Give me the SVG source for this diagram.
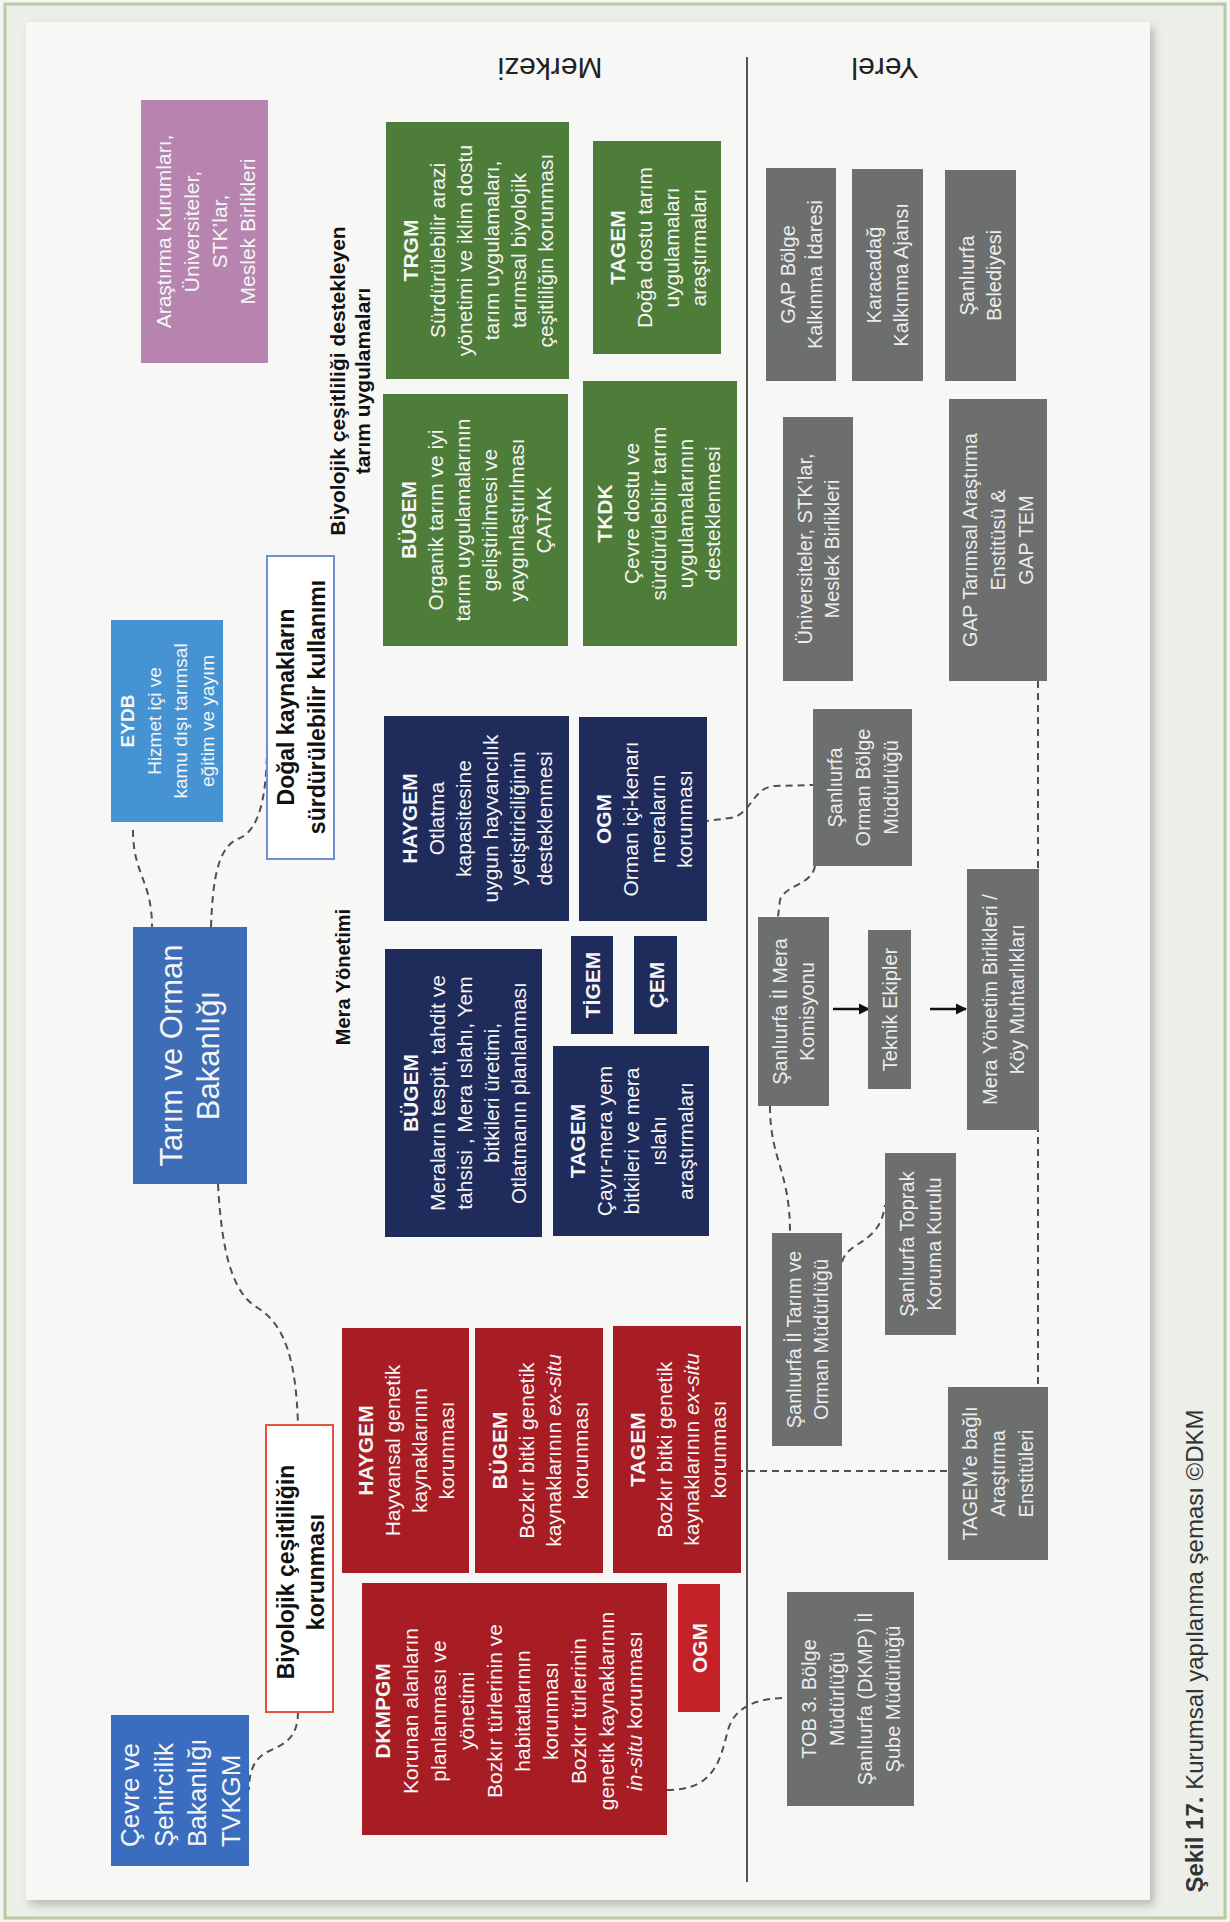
<svg xmlns="http://www.w3.org/2000/svg" width="1230" height="1922" viewBox="0 0 1230 1922">
<defs>
<style>
.t{font-family:"Liberation Sans",Arial,sans-serif;text-anchor:middle;dominant-baseline:central}
.w{fill:#f5f5f5;font-size:21px}
.g{fill:#ececec;font-size:20px}
.k{fill:#111;font-weight:bold}
.bd{font-weight:bold}
.it{font-style:italic}
.green{fill:#4e7d39}
.navy{fill:#1f2b5b}
.red{fill:#a71d23}
.gray{fill:#6d6f6f}
.dash{fill:none;stroke:#505050;stroke-width:2;stroke-dasharray:7 5}
.arr{fill:none;stroke:#111;stroke-width:2.5}
</style>
<filter id="sh" x="-5%" y="-5%" width="110%" height="110%">
<feDropShadow dx="4" dy="5" stdDeviation="4" flood-color="#000" flood-opacity="0.22"/>
</filter>
<marker id="ah" viewBox="0 0 10 10" refX="9" refY="5" markerWidth="4.5" markerHeight="4.5" orient="auto">
<path d="M0,0 L10,5 L0,10 z" fill="#111"/>
</marker>
</defs>

<rect x="0" y="0" width="1230" height="1922" fill="#f4f5f1"/>
<rect x="5" y="4" width="1220" height="1914" fill="#eceee8" stroke="#bac8a6" stroke-width="3"/>
<rect x="26" y="22" width="1124" height="1878" fill="#f7f7f5" filter="url(#sh)"/>

<g id="labels">
<text class="t" font-size="30" fill="#222" transform="translate(550,68) rotate(180)">Merkezi</text>
<text class="t" font-size="30" fill="#222" transform="translate(885,68) rotate(180)">Yerel</text>
<line x1="747" y1="57" x2="747" y2="1882" stroke="#555" stroke-width="2"/>
<text class="t k" font-size="21" transform="rotate(-90)"><tspan x="-381" y="337">Biyolojik çeşitliliği destekleyen</tspan><tspan x="-381" y="362">tarım uygulamaları</tspan></text>
<text class="t k" font-size="20" transform="rotate(-90)"><tspan x="-977" y="343">Mera Yönetimi</tspan></text>
<text class="t" font-size="24" fill="#333" transform="rotate(-90)"><tspan x="-1651" y="1194"><tspan font-weight="bold">Şekil 17.</tspan> Kurumsal yapılanma şeması ©DKM</tspan></text>
</g>

<g id="connectors">
<path class="dash" d="M133,830 C133,875 152,880 152,927"/>
<path class="dash" d="M211,927 C213,865 222,845 240,838 C258,830 267,800 267,745"/>
<path class="dash" d="M218,1184 C222,1260 235,1295 258,1308 C285,1325 296,1360 298,1425"/>
<path class="dash" d="M298,1712 C298,1740 282,1745 267,1752 C252,1760 249,1775 249,1790"/>
<path class="dash" d="M690,823 L730,818 C752,815 752,787 775,786 L813,785"/>
<path class="dash" d="M815,866 C812,885 785,885 780,900 L778,917"/>
<path class="dash" d="M770,1106 C770,1160 790,1170 790,1233"/>
<path class="dash" d="M842,1262 C848,1240 880,1245 885,1205"/>
<path class="dash" d="M667,1790 C715,1790 720,1760 728,1730 C735,1705 760,1698 787,1698"/>
<path class="dash" d="M700,1471 L948,1471"/>
<path class="dash" d="M1038,681 L1038,1387"/>
<path class="arr" d="M833,1009 L869,1009" marker-end="url(#ah)"/>
<path class="arr" d="M930,1009 L966,1009" marker-end="url(#ah)"/>
</g>

<g id="arastirma-kurumlari">
<rect x="141" y="100" width="127" height="263" fill="#b784b0"/>
<text class="t w" font-size="20" transform="rotate(-90)"><tspan x="-231.5" y="162.5">Araştırma Kurumları,</tspan><tspan x="-231.5" y="190.5">Üniversiteler,</tspan><tspan x="-231.5" y="218.5">STK’lar,</tspan><tspan x="-231.5" y="246.5">Meslek Birlikleri</tspan></text>
</g>

<g id="eydb">
<rect x="111" y="620" width="112" height="202" fill="#4593d3"/>
<text class="t w" style="font-size:19px" transform="rotate(-90)"><tspan class="bd" x="-721" y="127">EYDB</tspan><tspan x="-721" y="154">Hizmet içi ve</tspan><tspan x="-721" y="180">kamu dışı tarımsal</tspan><tspan x="-721" y="207">eğitim ve yayım</tspan></text>
</g>

<g id="tarim-orman">
<rect x="133" y="927" width="114" height="257" fill="#3d6db6"/>
<text class="t w" style="font-size:31px" transform="rotate(-90)"><tspan x="-1055.5" y="171">Tarım ve Orman</tspan><tspan x="-1055.5" y="208">Bakanlığı</tspan></text>
</g>

<g id="cevre-sehircilik">
<rect x="111" y="1715" width="138" height="151" fill="#3a6dbf"/>
<text class="t w" style="font-size:26px;text-anchor:start" transform="rotate(-90)"><tspan x="-1847" y="130">Çevre ve</tspan><tspan x="-1847" y="164">Şehircilik</tspan><tspan x="-1847" y="197">Bakanlığı</tspan><tspan x="-1847" y="231">TVKGM</tspan></text>
</g>

<g id="dogal-kaynaklar">
<rect x="267" y="556" width="67" height="303" fill="#ffffff" stroke="#6f8fcf" stroke-width="2"/>
<text class="t k" font-size="23" transform="rotate(-90)"><tspan x="-707" y="286">Doğal kaynakların</tspan><tspan x="-707" y="317">sürdürülebilir kullanımı</tspan></text>
</g>

<g id="biyolojik-korunma">
<rect x="266" y="1425" width="67" height="287" fill="#ffffff" stroke="#e0543f" stroke-width="2"/>
<text class="t k" font-size="23" transform="rotate(-90)"><tspan x="-1572" y="286">Biyolojik çeşitliliğin</tspan><tspan x="-1572" y="316">korunması</tspan></text>
</g>

<g id="trgm">
<rect class="green" x="386" y="122" width="183" height="257"/>
<text class="t w" transform="rotate(-90)"><tspan class="bd" x="-250.5" y="410">TRGM</tspan><tspan x="-250.5" y="437">Sürdürülebilir arazi</tspan><tspan x="-250.5" y="464">yönetimi ve iklim dostu</tspan><tspan x="-250.5" y="491">tarım uygulamaları,</tspan><tspan x="-250.5" y="518">tarımsal biyolojik</tspan><tspan x="-250.5" y="545">çeşitliliğin korunması</tspan></text>
</g>

<g id="bugem-tarim">
<rect class="green" x="383" y="394" width="185" height="252"/>
<text class="t w" transform="rotate(-90)"><tspan class="bd" x="-520" y="408">BÜGEM</tspan><tspan x="-520" y="435">Organik tarım ve iyi</tspan><tspan x="-520" y="462">tarım uygulamalarının</tspan><tspan x="-520" y="489">geliştirilmesi ve</tspan><tspan x="-520" y="516">yaygınlaştırılması</tspan><tspan x="-520" y="543">ÇATAK</tspan></text>
</g>

<g id="tagem-tarim">
<rect class="green" x="593" y="141" width="128" height="213"/>
<text class="t w" transform="rotate(-90)"><tspan class="bd" x="-247.5" y="616.5">TAGEM</tspan><tspan x="-247.5" y="643.5">Doğa dostu tarım</tspan><tspan x="-247.5" y="670.5">uygulamaları</tspan><tspan x="-247.5" y="697.5">araştırmaları</tspan></text>
</g>

<g id="tkdk">
<rect class="green" x="583" y="381" width="154" height="265"/>
<text class="t w" transform="rotate(-90)"><tspan class="bd" x="-513.5" y="604">TKDK</tspan><tspan x="-513.5" y="631">Çevre dostu ve</tspan><tspan x="-513.5" y="658">sürdürülebilir tarım</tspan><tspan x="-513.5" y="685">uygulamalarının</tspan><tspan x="-513.5" y="712">desteklenmesi</tspan></text>
</g>

<g id="haygem-mera">
<rect class="navy" x="384" y="716" width="185" height="205"/>
<text class="t w" transform="rotate(-90)"><tspan class="bd" x="-818.5" y="409">HAYGEM</tspan><tspan x="-818.5" y="436">Otlatma</tspan><tspan x="-818.5" y="463">kapasitesine</tspan><tspan x="-818.5" y="490">uygun hayvancılık</tspan><tspan x="-818.5" y="517">yetiştiriciliğinin</tspan><tspan x="-818.5" y="544">desteklenmesi</tspan></text>
</g>

<g id="ogm-mera">
<rect class="navy" x="579" y="717" width="128" height="204"/>
<text class="t w" transform="rotate(-90)"><tspan class="bd" x="-819" y="602.5">OGM</tspan><tspan x="-819" y="629.5">Orman içi-kenarı</tspan><tspan x="-819" y="656.5">meraların</tspan><tspan x="-819" y="683.5">korunması</tspan></text>
</g>

<g id="bugem-mera">
<rect class="navy" x="385" y="949" width="157" height="288"/>
<text class="t w" transform="rotate(-90)"><tspan class="bd" x="-1093" y="409.5">BÜGEM</tspan><tspan x="-1093" y="436.5">Meraların tespit, tahdit ve</tspan><tspan x="-1093" y="463.5">tahsisi , Mera ıslahı, Yem</tspan><tspan x="-1093" y="490.5">bitkileri üretimi,</tspan><tspan x="-1093" y="517.5">Otlatmanın planlanması</tspan></text>
</g>

<g id="tigem">
<rect class="navy" x="571" y="936" width="42" height="98"/>
<text class="t w bd" transform="rotate(-90)"><tspan x="-985" y="592">TİGEM</tspan></text>
</g>

<g id="cem">
<rect class="navy" x="634" y="936" width="43" height="98"/>
<text class="t w bd" transform="rotate(-90)"><tspan x="-985" y="655.5">ÇEM</tspan></text>
</g>

<g id="tagem-mera">
<rect class="navy" x="553" y="1046" width="156" height="190"/>
<text class="t w" transform="rotate(-90)"><tspan class="bd" x="-1141" y="577">TAGEM</tspan><tspan x="-1141" y="604">Çayır-mera yem</tspan><tspan x="-1141" y="631">bitkileri ve mera</tspan><tspan x="-1141" y="658">ıslahı</tspan><tspan x="-1141" y="685">araştırmaları</tspan></text>
</g>

<g id="haygem-koruma">
<rect class="red" x="342" y="1328" width="127" height="245"/>
<text class="t w" transform="rotate(-90)"><tspan class="bd" x="-1450.5" y="365">HAYGEM</tspan><tspan x="-1450.5" y="392">Hayvansal genetik</tspan><tspan x="-1450.5" y="419">kaynaklarının</tspan><tspan x="-1450.5" y="446">korunması</tspan></text>
</g>

<g id="bugem-koruma">
<rect class="red" x="475" y="1328" width="128" height="245"/>
<text class="t w" transform="rotate(-90)"><tspan class="bd" x="-1450.5" y="498.5">BÜGEM</tspan><tspan x="-1450.5" y="525.5">Bozkır bitki genetik</tspan><tspan x="-1450.5" y="552.5">kaynaklarının <tspan class="it">ex-situ</tspan></tspan><tspan x="-1450.5" y="579.5">korunması</tspan></text>
</g>

<g id="tagem-koruma">
<rect class="red" x="613" y="1326" width="128" height="247"/>
<text class="t w" transform="rotate(-90)"><tspan class="bd" x="-1449.5" y="636.5">TAGEM</tspan><tspan x="-1449.5" y="663.5">Bozkır bitki genetik</tspan><tspan x="-1449.5" y="690.5">kaynaklarının <tspan class="it">ex-situ</tspan></tspan><tspan x="-1449.5" y="717.5">korunması</tspan></text>
</g>

<g id="dkmpgm">
<rect class="red" x="362" y="1583" width="305" height="252"/>
<text class="t w" transform="rotate(-90)"><tspan class="bd" x="-1711" y="382">DKMPGM</tspan><tspan x="-1711" y="410">Korunan alanların</tspan><tspan x="-1711" y="438">planlanması ve</tspan><tspan x="-1711" y="466">yönetimi</tspan><tspan x="-1711" y="494">Bozkır türlerinin ve</tspan><tspan x="-1711" y="522">habitatlarının</tspan><tspan x="-1711" y="550">korunması</tspan><tspan x="-1711" y="578">Bozkır türlerinin</tspan><tspan x="-1711" y="606">genetik kaynaklarının</tspan><tspan x="-1711" y="634"><tspan class="it">in-situ</tspan> korunması</tspan></text>
</g>

<g id="ogm-koruma">
<rect x="678" y="1584" width="42" height="128" fill="#c42128"/>
<text class="t w bd" transform="rotate(-90)"><tspan x="-1648" y="699">OGM</tspan></text>
</g>

<g id="gap-bolge">
<rect class="gray" x="766" y="168" width="70" height="213"/>
<text class="t g" transform="rotate(-90)"><tspan x="-274.5" y="787.5">GAP Bölge</tspan><tspan x="-274.5" y="814.5">Kalkınma İdaresi</tspan></text>
</g>

<g id="karacadag">
<rect class="gray" x="852" y="169" width="71" height="212"/>
<text class="t g" transform="rotate(-90)"><tspan x="-275" y="874">Karacadağ</tspan><tspan x="-275" y="901">Kalkınma Ajansı</tspan></text>
</g>

<g id="sanliurfa-belediyesi">
<rect class="gray" x="945" y="170" width="71" height="211"/>
<text class="t g" transform="rotate(-90)"><tspan x="-275.5" y="967">Şanlıurfa</tspan><tspan x="-275.5" y="994">Belediyesi</tspan></text>
</g>

<g id="universiteler">
<rect class="gray" x="783" y="417" width="70" height="264"/>
<text class="t g" transform="rotate(-90)"><tspan x="-549" y="804.5">Üniversiteler,  STK’lar,</tspan><tspan x="-549" y="831.5">Meslek Birlikleri</tspan></text>
</g>

<g id="gap-tarimsal">
<rect class="gray" x="949" y="399" width="98" height="282"/>
<text class="t g" transform="rotate(-90)"><tspan x="-540" y="970">GAP Tarımsal Araştırma</tspan><tspan x="-540" y="998">Enstitüsü &amp;</tspan><tspan x="-540" y="1026">GAP TEM</tspan></text>
</g>

<g id="orman-bolge">
<rect class="gray" x="813" y="709" width="99" height="157"/>
<text class="t g" transform="rotate(-90)"><tspan x="-787.5" y="834.5">Şanlıurfa</tspan><tspan x="-787.5" y="862.5">Orman Bölge</tspan><tspan x="-787.5" y="890.5">Müdürlüğü</tspan></text>
</g>

<g id="mera-komisyonu">
<rect class="gray" x="758" y="917" width="71" height="189"/>
<text class="t g" transform="rotate(-90)"><tspan x="-1011.5" y="780">Şanlıurfa İl Mera</tspan><tspan x="-1011.5" y="807">Komisyonu</tspan></text>
</g>

<g id="teknik-ekipler">
<rect class="gray" x="868" y="930" width="43" height="159"/>
<text class="t g" transform="rotate(-90)"><tspan x="-1009.5" y="889.5">Teknik Ekipler</tspan></text>
</g>

<g id="mera-yonetim-birlikleri">
<rect class="gray" x="967" y="869" width="72" height="261"/>
<text class="t g" transform="rotate(-90)"><tspan x="-999.5" y="989.5">Mera Yönetim Birlikleri /</tspan><tspan x="-999.5" y="1016.5">Köy Muhtarlıkları</tspan></text>
</g>

<g id="il-tarim-orman">
<rect class="gray" x="772" y="1233" width="70" height="213"/>
<text class="t g" transform="rotate(-90)"><tspan x="-1339.5" y="793.5">Şanlıurfa İl Tarım ve</tspan><tspan x="-1339.5" y="820.5">Orman Müdürlüğü</tspan></text>
</g>

<g id="toprak-koruma">
<rect class="gray" x="885" y="1153" width="71" height="182"/>
<text class="t g" transform="rotate(-90)"><tspan x="-1244" y="907">Şanlıurfa Toprak</tspan><tspan x="-1244" y="934">Koruma Kurulu</tspan></text>
</g>

<g id="tagem-enstituleri">
<rect class="gray" x="948" y="1387" width="100" height="173"/>
<text class="t g" transform="rotate(-90)"><tspan x="-1473.5" y="970">TAGEM’e bağlı</tspan><tspan x="-1473.5" y="998">Araştırma</tspan><tspan x="-1473.5" y="1026">Enstitüleri</tspan></text>
</g>

<g id="tob-bolge">
<rect class="gray" x="787" y="1592" width="127" height="214"/>
<text class="t g" transform="rotate(-90)"><tspan x="-1699" y="808.5">TOB 3. Bölge</tspan><tspan x="-1699" y="836.5">Müdürlüğü</tspan><tspan x="-1699" y="864.5">Şanlıurfa (DKMP) İl</tspan><tspan x="-1699" y="892.5">Şube Müdürlüğü</tspan></text>
</g>
</svg>
